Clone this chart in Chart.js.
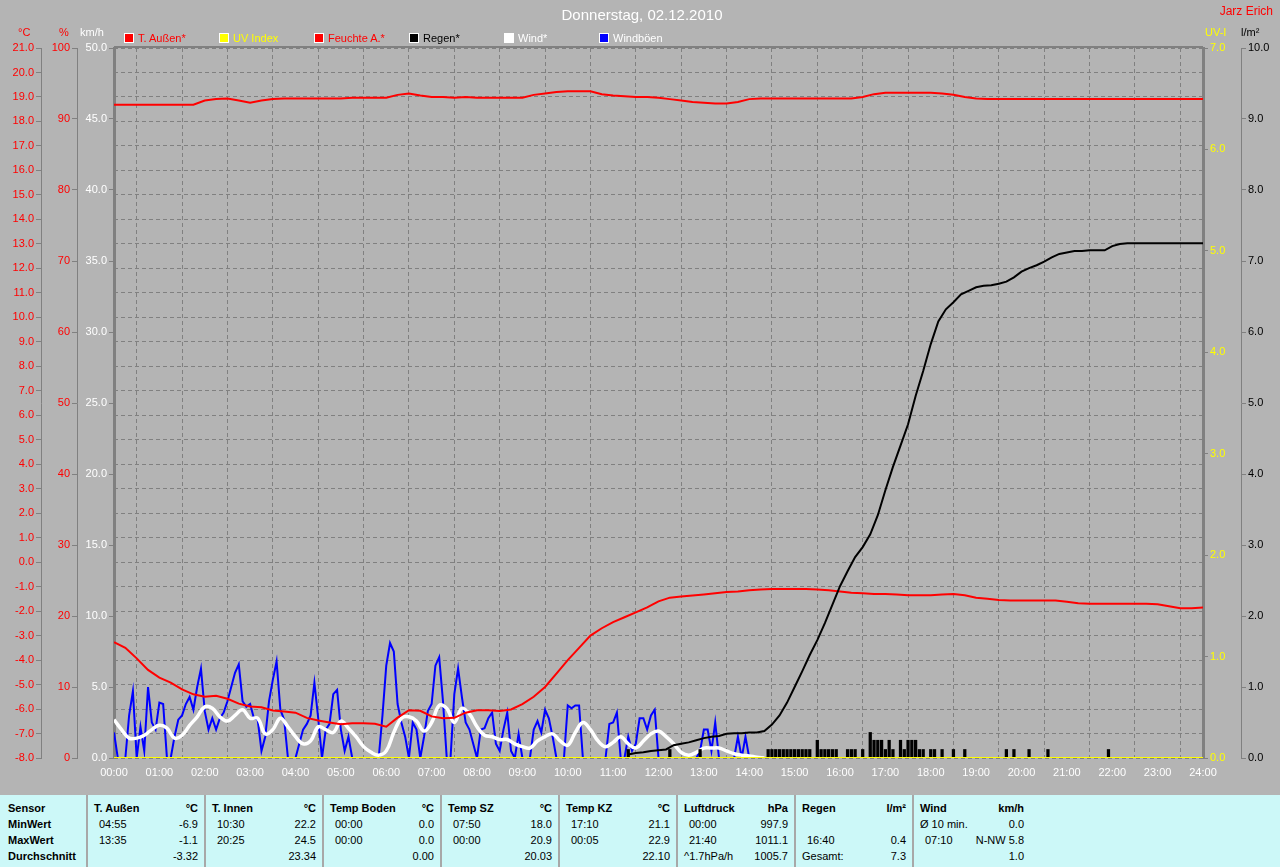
<!DOCTYPE html>
<html><head><meta charset="utf-8">
<script src="https://cdn.jsdelivr.net/npm/chart.js@4.4.0/dist/chart.umd.min.js"></script>
<style>
html,body{margin:0;padding:0;background:#b4b4b4;width:1280px;height:867px;overflow:hidden;font-family:"Liberation Sans",Arial,sans-serif;}
#wrap{position:absolute;left:0;top:0;width:1280px;height:795px;}
.t{position:absolute;font-size:11px;line-height:13px;white-space:nowrap;}
.bx{position:absolute;width:8px;height:8px;border:1px solid #fff;}
#tbl{position:absolute;left:0;top:795px;width:1280px;height:72px;background:#ccf8f8;}
.col{position:absolute;top:0;height:72px;}
.sep{border-left:2px solid #a8a8a8;}
.cell{position:absolute;font-size:11px;line-height:16px;white-space:nowrap;color:#000;}
.b{font-weight:bold;}
</style></head>
<body>
<div id="wrap"><canvas id="c" width="1280" height="795"></canvas></div>
<div class="t" style="left:0;width:1284px;text-align:center;top:6px;font-size:15px;line-height:18px;color:#fff;">Donnerstag, 02.12.2010</div>
<div class="t" style="right:7px;top:5px;font-size:12px;color:#f00;">Jarz Erich</div>
<div class="t" style="left:18px;top:26px;color:#f00;">°C</div>
<div class="t" style="left:59px;top:26px;color:#f00;">%</div>
<div class="t" style="left:80px;top:26px;color:#fff;">km/h</div>
<div class="t" style="left:1205px;top:26px;color:#ff0;">UV-I</div>
<div class="t" style="left:1241px;top:26px;color:#000;">l/m²</div>
<div id="legend"></div>
<div id="tbl"></div>
<script>
// ---------- DATA ----------
const timeLabels = ['00:00','01:00','02:00','03:00','04:00','05:00','06:00','07:00','08:00','09:00','10:00','11:00','12:00','13:00','14:00','15:00','16:00','17:00','18:00','19:00','20:00','21:00','22:00','23:00','24:00'];

// T. Außen (°C), every 15 min from 00:00
const tempOut = [-3.27,-3.5,-3.93,-4.4,-4.72,-4.92,-5.2,-5.4,-5.5,-5.46,
 -5.58,-5.78,-5.9,-5.93,-6.06,-6.1,-6.15,-6.36,-6.47,-6.55,
 -6.62,-6.58,-6.58,-6.6,-6.72,-6.35,-6.05,-6.07,-6.3,-6.38,
 -6.36,-6.15,-6.05,-6.05,-6.08,-6.02,-5.8,-5.5,-5.1,-4.55,
 -4.0,-3.5,-3.0,-2.7,-2.45,-2.25,-2.05,-1.85,-1.6,-1.45,
 -1.4,-1.36,-1.32,-1.27,-1.22,-1.2,-1.15,-1.12,-1.1,-1.1,
 -1.1,-1.1,-1.12,-1.15,-1.2,-1.25,-1.27,-1.3,-1.3,-1.32,
 -1.35,-1.35,-1.35,-1.32,-1.3,-1.35,-1.45,-1.5,-1.55,-1.57,
 -1.57,-1.57,-1.57,-1.57,-1.62,-1.68,-1.7,-1.7,-1.7,-1.7,
 -1.7,-1.7,-1.72,-1.8,-1.88,-1.88,-1.85];

// Feuchte A. (%), every 15 min from 00:00
const humidity = [92.0,92.0,92.0,92.0,92.0,92.0,92.0,92.0,
 92.6,92.8,92.9,92.6,92.3,92.6,92.8,92.9,
 92.9,92.9,92.9,92.9,92.9,
 93.0,93.0,93.0,93.0,
 93.4,93.6,93.3,93.1,93.1,93.0,93.1,
 93.0,93.0,93.0,93.0,93.0,
 93.4,93.6,93.8,
 93.9,93.9,93.9,
 93.5,93.3,93.2,93.1,93.1,93.0,92.8,92.6,92.4,92.3,92.2,92.2,92.4,92.8,92.9,
 92.9,92.9,92.9,92.9,92.9,92.9,92.9,92.9,
 93.1,93.5,
 93.7,93.7,93.7,93.7,93.7,
 93.6,93.4,93.1,92.9,
 92.8,92.8,92.8,92.8,92.8,92.8,92.8,92.8,92.8,92.8,
 92.8,92.8,92.8,92.8,92.8,92.8,92.8,92.8,92.8,92.8];

// Wind (km/h), every 10 min from 00:00 until 14:20
const wind = [2.7,2.0,1.4,1.4,1.6,2.0,2.3,2.1,1.4,1.6,
 2.3,2.9,3.6,3.5,2.9,2.6,3.0,3.4,2.8,2.8,
 1.7,2.0,2.8,2.2,1.5,1.0,1.2,2.2,2.0,1.8,
 2.6,2.1,1.5,0.8,0.4,0.2,0.5,1.8,2.8,2.9,
 2.6,1.9,2.5,3.7,3.5,2.5,3.5,3.1,2.2,1.6,
 1.5,1.3,1.3,1.0,0.8,0.7,1.2,1.5,1.7,1.2,
 0.9,1.8,2.5,2.0,1.2,0.8,1.1,1.5,1.0,0.7,
 1.2,1.7,1.9,1.5,1.0,0.4,0.2,0.4,0.7,0.7,
 0.7,0.5,0.3,0.2,0.15,0.05,0.0];

// Windböen (km/h), every 5 min from 00:00 until 14:00
const gusts = [1.8,0,0,0,3.0,4.7,0,2.2,0.5,5.0,
 2.5,2.0,3.9,3.8,0,0,1.5,2.7,3.0,3.8,
 4.3,3.4,5.0,6.3,3.3,2.0,2.8,2.0,2.8,3.2,
 4.0,5.0,6.0,6.6,4.0,3.6,3.8,2.8,2.7,0.5,
 1.5,4.0,5.5,6.8,3.4,2.7,0,0,0,1.0,
 2.0,2.4,3.0,5.3,2.8,0,2.0,2.4,4.5,4.8,
 2.0,0.5,1.5,0,0,0,0,0,0,0,
 0,3.0,6.5,8.1,7.5,3.8,2.5,1.5,0,2.5,
 2.0,0,1.5,3.3,3.8,6.5,7.1,4.0,0,0,
 4.5,6.3,4.3,2.5,2.0,1.0,0,2.0,2.1,2.8,
 3.2,1.0,0.5,2.0,3.2,0.5,0,1.7,0,0,
 0,2.0,2.6,1.8,3.4,2.8,1.5,0,0,0,
 3.7,3.5,3.7,3.7,0,0,0,0,0,0,
 0,2.4,2.5,3.2,0,0,1.5,0.5,1.0,2.8,
 2.8,2.0,3.0,3.4,0,0,0,0,0,0,
 0,0,0,0,0,0.5,2.0,2.0,0.5,2.5,
 0,0,0,0,0,1.5,0,1.5,0];

// Regen total (l/m²), every 10 min from 11:20
const rainTotal = [0.05,0.07,0.08,0.10,0.11,0.12,0.18,0.20,0.22,0.25,
 0.28,0.30,0.31,0.34,0.35,0.35,0.36,0.36,0.38,0.47,
 0.60,0.78,1.00,1.22,1.45,1.66,1.90,2.16,2.42,2.63,
 2.83,2.97,3.15,3.42,3.77,4.10,4.40,4.70,5.10,5.45,
 5.83,6.15,6.32,6.42,6.53,6.58,6.63,6.65,6.66,6.68,
 6.71,6.77,6.85,6.90,6.94,6.99,7.05,7.10,7.12,7.14,
 7.14,7.15,7.15,7.15,7.21,7.24,7.25,7.25,7.25,7.25,
 7.25,7.25,7.25,7.25,7.25,7.25,7.25];

// Regen per interval (l/m²)
const rainBarTimes = ['11:20','12:15','12:55',
 '14:25','14:30','14:35','14:40','14:45','14:50','14:55','15:00','15:05','15:10','15:15','15:20',
 '15:30','15:35','15:40','15:45','15:50','15:55','16:10','16:15','16:20','16:30','16:40',
 '16:45','16:50','16:55','17:00','17:05','17:10','17:20','17:25','17:30','17:35','17:40','17:45','17:50',
 '18:00','18:05','18:15','18:30','18:45','19:40','19:50','20:10','20:35','21:55'];
const rainBarValues = [0.12,0.12,0.12,
 0.12,0.12,0.12,0.12,0.12,0.12,0.12,0.12,0.12,0.12,0.12,0.12,
 0.25,0.12,0.12,0.12,0.12,0.12,0.12,0.12,0.12,0.12,0.36,
 0.25,0.25,0.25,0.12,0.25,0.12,0.25,0.12,0.25,0.25,0.25,0.12,0.12,
 0.12,0.12,0.12,0.12,0.12,0.12,0.12,0.12,0.12,0.12];

// UV Index, hourly
const uvIndex = [0,0,0,0,0,0,0,0,0,0,0,0,0,0,0,0,0,0,0,0,0,0,0,0,0];

const legendNames = ['T. Außen*','UV Index','Feuchte A.*','Regen*','Wind*','Windböen'];
const legendColors = ['#ff0000','#ffff00','#ff0000','#000000','#ffffff','#0000ff'];
const legendTextColors = ['#ff0000','#ffff00','#ff0000','#000000','#ffffff','#ffffff'];

const tableRowNames = ['Sensor','MinWert','MaxWert','Durchschnitt'];
const tableCols = [
 {head:['T. Außen','°C'], rows:[['04:55','-6.9'],['13:35','-1.1'],['','-3.32']]},
 {head:['T. Innen','°C'], rows:[['10:30','22.2'],['20:25','24.5'],['','23.34']]},
 {head:['Temp Boden','°C'], rows:[['00:00','0.0'],['00:00','0.0'],['','0.00']]},
 {head:['Temp SZ','°C'], rows:[['07:50','18.0'],['00:00','20.9'],['','20.03']]},
 {head:['Temp KZ','°C'], rows:[['17:10','21.1'],['00:05','22.9'],['','22.10']]},
 {head:['Luftdruck','hPa'], rows:[['00:00','997.9'],['21:40','1011.1'],['^1.7hPa/h','1005.7']]},
 {head:['Regen','l/m²'], rows:[['',''],['16:40','0.4'],['Gesamt:','7.3']]},
 {head:['Wind','km/h'], rows:[['Ø 10 min.','0.0'],['07:10','N-NW 5.8'],['','1.0']]}
];

// ---------- BUILD ----------
function series(startHour, stepMin, values){ return values.map((v,i)=>({x:startHour+i*stepMin/60, y:v})); }
function hm(s){ const p=s.split(':'); return +p[0] + (+p[1])/60; }

const FONT = {family:'"Liberation Sans", Arial, sans-serif', size:11};
const GRID = '#808080';

const frame = {
  id:'frame',
  beforeDatasetsDraw(chart){
    const {ctx, chartArea:a} = chart;
    ctx.save();
    ctx.strokeStyle = GRID; ctx.lineWidth = 2;
    ctx.beginPath(); ctx.moveTo(a.left, a.top-1); ctx.lineTo(a.right, a.top-1); ctx.stroke();
    ctx.restore();
  }
};

function yAxis(pos, weight, min, max, step, color, width, dec, borderW){
  return {type:'linear', axis:'y', position:pos, weight:weight, min:min, max:max,
    ticks:{stepSize:step, color:color, font:FONT, padding:2, callback:(v)=>dec?v.toFixed(1):String(v)},
    grid:{drawOnChartArea:false, tickLength:5, color:GRID, tickColor:GRID},
    border:{display:true, color:GRID, width:borderW},
    afterFit:(s)=>{ s.width = width; }};
}

new Chart(document.getElementById('c'), {
  type:'line',
  data:{datasets:[
    {label:'UV Index', data:series(0,60,uvIndex), yAxisID:'uv', borderColor:'#ffff00', borderWidth:2, pointRadius:0, order:0},
    {type:'bar', label:'Regen', data:rainBarTimes.map((t,i)=>({x:hm(t), y:rainBarValues[i]})), yAxisID:'rain', backgroundColor:'#000', barThickness:2.6, order:1},
    {label:'Regen*', data:series(hm('11:20'),10,rainTotal), yAxisID:'rain', borderColor:'#000', borderWidth:2, pointRadius:0, order:2},
    {label:'T. Außen*', data:series(0,15,tempOut), yAxisID:'temp', borderColor:'#ff0000', borderWidth:2, pointRadius:0, order:3},
    {label:'Feuchte A.*', data:series(0,15,humidity), yAxisID:'hum', borderColor:'#ff0000', borderWidth:2, pointRadius:0, order:4},
    {label:'Wind*', data:series(0,10,wind), yAxisID:'kmh', borderColor:'#ffffff', borderWidth:3.5, tension:0.4, pointRadius:0, order:5},
    {label:'Windböen', data:series(0,5,gusts), yAxisID:'kmh', borderColor:'#0000ff', borderWidth:2, pointRadius:0, order:6}
  ]},
  options:{
    responsive:false, animation:false, events:[],
    layout:{padding:{top:48,left:0,right:0,bottom:0}},
    plugins:{legend:{display:false}, tooltip:{enabled:false}},
    scales:{
      x:{type:'linear', position:'bottom', min:0, max:24, offset:false,
         ticks:{stepSize:1, autoSkip:false, maxRotation:0, color:'#fff', font:FONT, padding:8, callback:(v)=>timeLabels[v]},
         grid:{color:GRID, drawTicks:false},
         border:{display:false, dash:[4,3]},
         afterFit:(s)=>{ s.height = 37; }},
      gy:{type:'linear', axis:'y', position:'left', weight:-1, min:-8, max:21,
         ticks:{display:false, stepSize:1},
         grid:{color:GRID, drawTicks:false},
         border:{display:false, dash:[4,3]},
         afterFit:(s)=>{ s.width = 0; }},
      kmh: yAxis('left',0,0,50,5,'#ffffff',37,true,3),
      hum: yAxis('left',1,0,100,10,'#ff0000',36,false,1),
      temp: yAxis('left',2,-8,21,1,'#ff0000',41,true,1),
      uv: yAxis('right',0,0,7,1,'#ffff00',38,true,3),
      rain: yAxis('right',1,0,10,1,'#000000',39,true,1)
    }
  },
  plugins:[frame]
});

// legend (HTML text)
const lg = document.getElementById('legend');
legendNames.forEach((n,i)=>{
  const x = 124 + i*95;
  const b = document.createElement('div'); b.className='bx';
  b.style.left = x+'px'; b.style.top='33px'; b.style.background = legendColors[i];
  lg.appendChild(b);
  const t = document.createElement('div'); t.className='t';
  t.style.left = (x+14)+'px'; t.style.top='32px'; t.style.color = legendTextColors[i];
  t.textContent = n; lg.appendChild(t);
});

// table
const tbl = document.getElementById('tbl');
function cell(parent, text, left, right, top, bold){
  const d = document.createElement('div'); d.className = 'cell' + (bold?' b':'');
  if (left !== null) d.style.left = left+'px'; else d.style.right = right+'px';
  d.style.top = top+'px'; d.textContent = text; parent.appendChild(d);
}
const c0 = document.createElement('div'); c0.className='col'; c0.style.left='0px'; c0.style.width='88px'; tbl.appendChild(c0);
tableRowNames.forEach((n,r)=>cell(c0, n, 8, null, 5+r*16, true));
tableCols.forEach((c,i)=>{
  const col = document.createElement('div'); col.className='col sep';
  col.style.left = (86+i*118)+'px'; col.style.width='116px'; tbl.appendChild(col);
  cell(col, c.head[0], 6, null, 5, true);
  cell(col, c.head[1], null, 6, 5, true);
  c.rows.forEach((row,r)=>{
    if (row[0]) cell(col, row[0], row[0].length>6?6:11, null, 21+r*16, false);
    if (row[1]) cell(col, row[1], null, 6, 21+r*16, false);
  });
});
</script>
</body></html>
